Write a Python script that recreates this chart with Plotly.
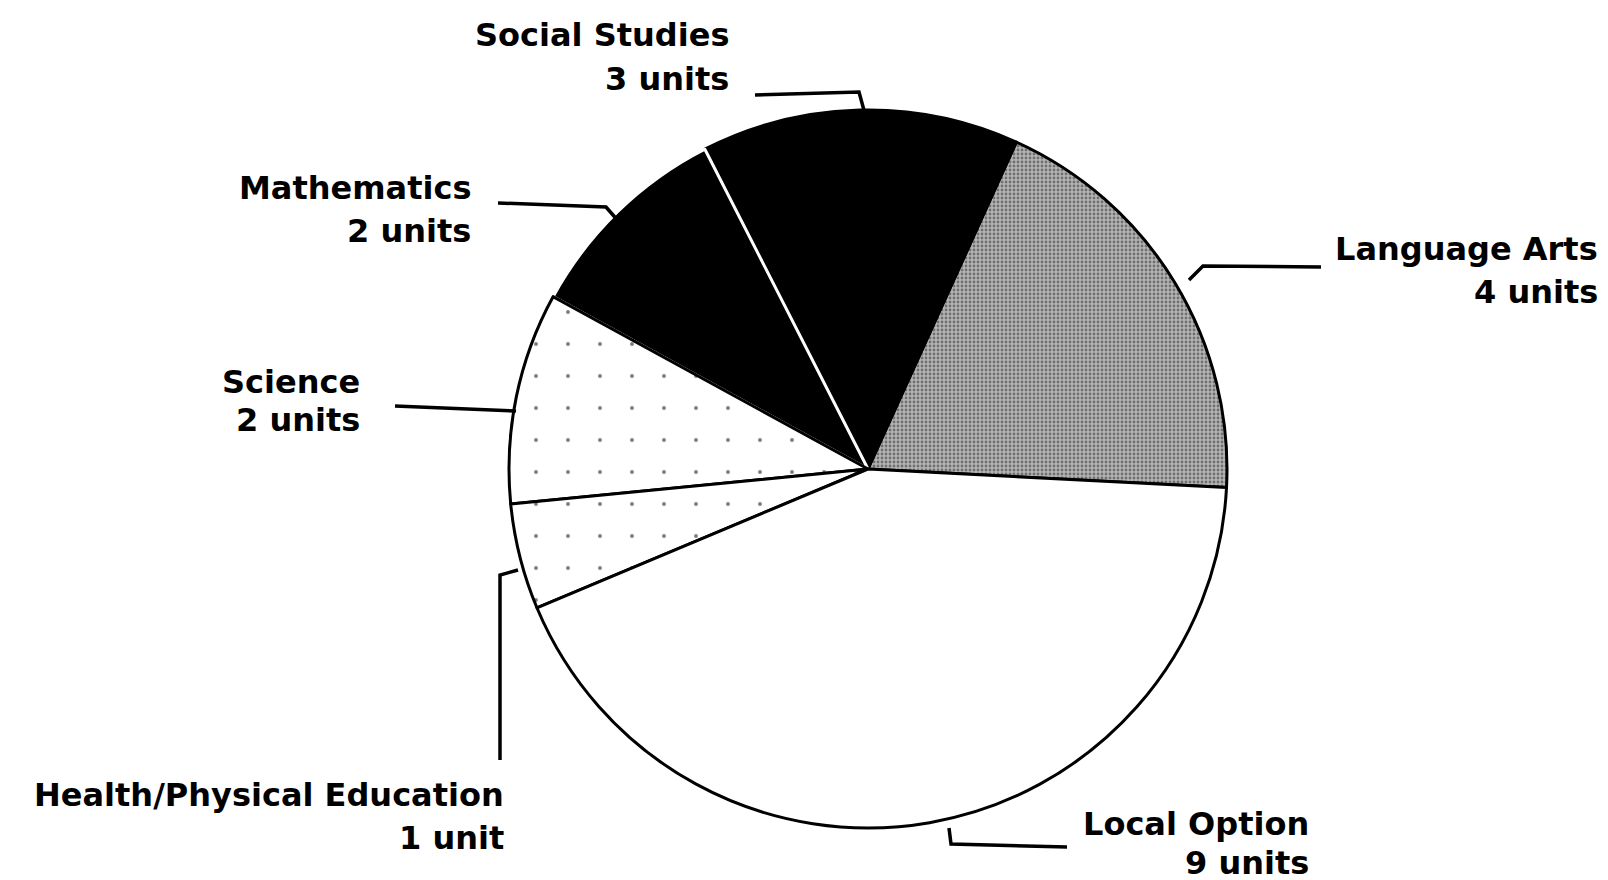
import plotly.graph_objects as go

# ---- data ----
subjects = ["Language Arts", "Social Studies", "Mathematics", "Science",
            "Health/Physical Education", "Local Option"]
units = [4, 3, 2, 2, 1, 9]
unit_labels = ["4 units", "3 units", "2 units", "2 units", "1 unit", "9 units"]

W, H = 1608, 880

def px(x):
    return x / W

def py(y):
    return 1 - y / H

fill_colors = ["#b4b4b4", "black", "black", "white", "white", "white"]
pattern_shapes = [".", "", "", ".", ".", ""]
pattern_fg = ["#2a2a2a", "black", "black", "black", "black", "black"]
pattern_size = [4, 8, 8, 32, 32, 8]
pattern_sol = [0.4, 0.3, 0.3, 0.012, 0.012, 0.3]
line_colors = ["black", "black", "white", "black", "black", "black"]

fig = go.Figure(go.Pie(
    labels=subjects,
    values=units,
    sort=False,
    direction="counterclockwise",
    rotation=24.4,
    textinfo="none",
    hoverinfo="label+value",
    showlegend=False,
    marker=dict(
        colors=fill_colors,
        line=dict(color=line_colors, width=3),
        pattern=dict(shape=pattern_shapes, fgcolor=pattern_fg, bgcolor=fill_colors,
                     size=pattern_size, solidity=pattern_sol, fillmode="overlay"),
    ),
    domain=dict(x=[px(500), px(1220)], y=[py(820), py(102)]),
))

# label placement (right edge x, first line y, second line y) in pixels
label_pos = {
    "Language Arts": (1592, 241, 284),
    "Social Studies": (723, 27, 71),
    "Mathematics": (465, 180, 223),
    "Science": (354, 374, 412),
    "Health/Physical Education": (498, 787, 830),
    "Local Option": (1303, 816, 855),
}
leaders = {
    "Language Arts": [(1313, 259), (1195, 258), (1181, 272)],
    "Social Studies": [(747, 87), (851, 84), (857, 106)],
    "Mathematics": [(490, 195), (598, 199), (612, 215)],
    "Science": [(387, 398), (508, 403)],
    "Health/Physical Education": [(492, 752), (492, 567), (510, 562)],
    "Local Option": [(941, 820), (943, 836), (1059, 839)],
}

font = dict(family="DejaVu Sans", size=32, color="black", weight="bold")
annotations = []
shapes = []
for name, lab in zip(subjects, unit_labels):
    xr, y1, y2 = label_pos[name]
    for txt, yy in ((name, y1), (lab, y2)):
        annotations.append(dict(
            x=px(xr), y=py(yy), xref="paper", yref="paper",
            text=txt, showarrow=False, xanchor="right", yanchor="middle",
            font=font,
        ))
    pts = leaders[name]
    path = "M " + " L ".join(f"{px(a)},{py(b)}" for a, b in pts)
    shapes.append(dict(type="path", path=path, xref="paper", yref="paper",
                       line=dict(color="black", width=3.5)))

fig.update_layout(
    width=W, height=H,
    margin=dict(l=0, r=0, t=0, b=0),
    paper_bgcolor="white",
    plot_bgcolor="white",
    annotations=annotations,
    shapes=shapes,
)

fig.write_html("out.html")
